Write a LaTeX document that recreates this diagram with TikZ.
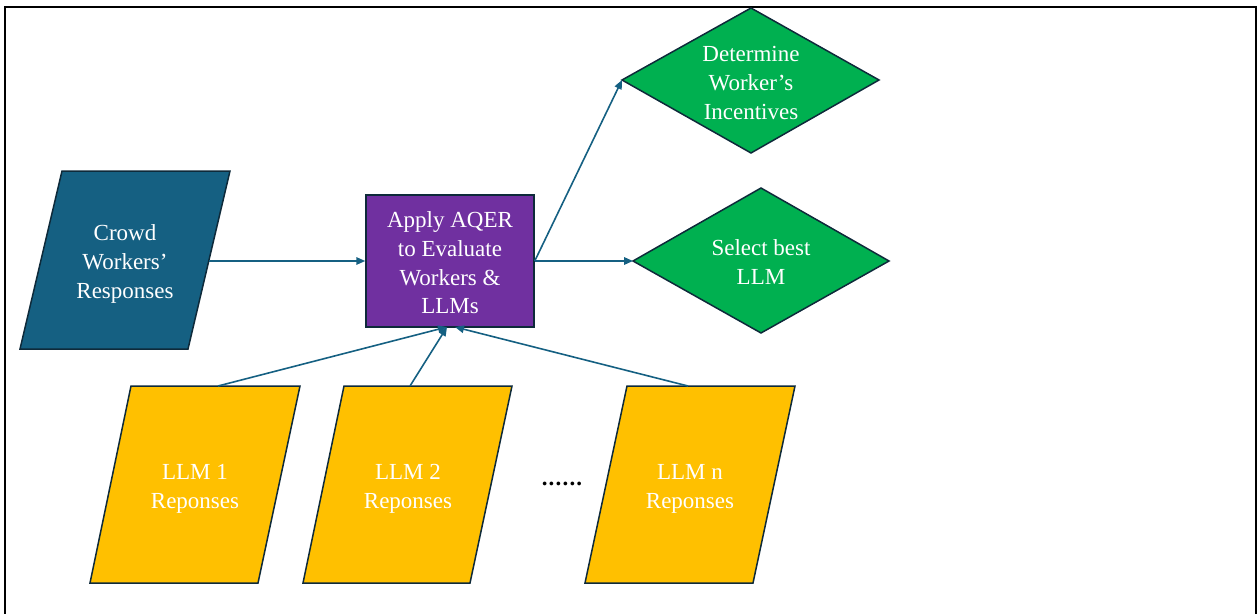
\documentclass[tikz,border=0pt]{standalone}
\usepackage{fontspec}
\setmainfont{Liberation Serif}
\usetikzlibrary{arrows.meta}
\definecolor{cblue}{HTML}{156082}
\definecolor{cpurple}{HTML}{7030A0}
\definecolor{cgreen}{HTML}{00B050}
\definecolor{cyellow}{HTML}{FFC000}
\definecolor{cedge}{HTML}{0E2A3A}
\definecolor{carrow}{HTML}{156082}
\tikzset{
  shapeline/.style={draw=cedge, line width=1.5pt, line join=miter},
  txt/.style={text=white, align=center, inner sep=0pt, font=\fontsize{23}{28.7}\selectfont},
  arr/.style={draw=carrow, line width=1.6pt, -{Triangle[length=9pt,width=7.5pt]}},
  rectbox/.style={shapeline, fill=cpurple, minimum width=168pt, minimum height=132pt, inner sep=0pt},
}
\begin{document}
\begin{tikzpicture}[x=1pt,y=-1pt]
\useasboundingbox (0,0) rectangle (1258,613);
\draw[line width=2pt] (5,614) -- (5,7) -- (1256,7) -- (1256,614);

% crowd workers
\path[shapeline, fill=cblue] (62,171) -- (230,171) -- (188,349) -- (20,349) -- cycle;
\node[txt] (crowd) at (125,264) {Crowd\\Workers’\\Responses};
\coordinate (crowdR) at (209,261);

% AQER box
\node[rectbox] (aqer) at (450,261) {};
\node[txt] (aqertxt) at (450,263) {Apply AQER\\to Evaluate\\Workers \&\\LLMs};
\coordinate (inA) at (447,327);
\coordinate (inB) at (455,327);

% diamonds
\path[shapeline, fill=cgreen] (622,80) -- (751,8) -- (879,80) -- (751,153) -- cycle;
\node[txt] (det) at (751,83) {Determine\\Worker’s\\Incentives};
\coordinate (detW) at (622,80);

\path[shapeline, fill=cgreen] (633,261) -- (761,188) -- (889,261) -- (761,333) -- cycle;
\node[txt] (sel) at (761,262) {Select best\\LLM};
\coordinate (selW) at (633,261);

% LLM responses
\path[shapeline, fill=cyellow] (131,386) -- (300,386) -- (258,583) -- (90,583) -- cycle;
\node[txt] (llm1) at (195,489) {LLM 1\\Reponses};
\coordinate (llm1T) at (218,386);

\path[shapeline, fill=cyellow] (344,386) -- (512,386) -- (470,583) -- (303,583) -- cycle;
\node[txt] (llm2) at (408,489) {LLM 2\\Reponses};
\coordinate (llm2T) at (410,386);

\path[shapeline, fill=cyellow] (627,386) -- (795,386) -- (753,583) -- (585,583) -- cycle;
\node[txt] (llmn) at (690,489) {LLM n\\Reponses};
\coordinate (llmnT) at (688,386);

\node[inner sep=0pt, font=\fontsize{23}{24}\selectfont\bfseries] (dots) at (562,484) {.\hspace{1.2pt}.\hspace{1.2pt}.\hspace{1.2pt}.\hspace{1.2pt}.\hspace{1.2pt}.};

% connectors
\draw[arr] (crowdR) -- (aqer.west);
\draw[arr] (aqer.east) -- (selW);
\draw[arr] (aqer.east) -- (detW);
\draw[arr] (llm1T) -- (inA);
\draw[arr] (llm2T) -- (inA);
\draw[arr] (llmnT) -- (inB);
\end{tikzpicture}
\end{document}
